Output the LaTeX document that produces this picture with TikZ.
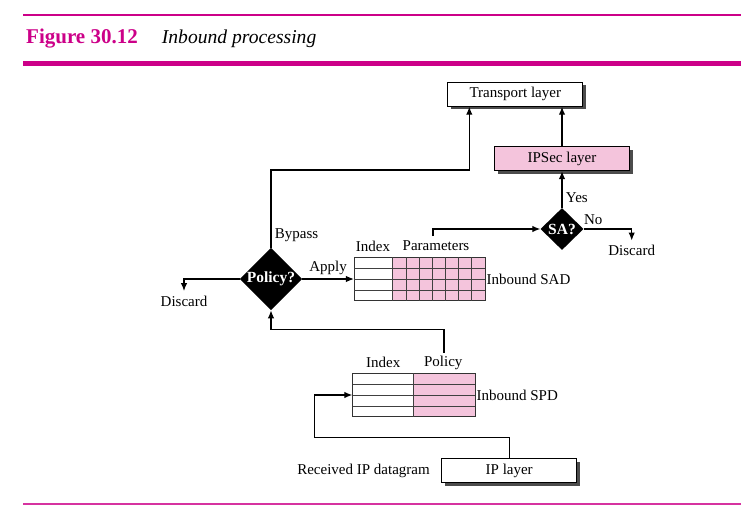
\documentclass[tikz,border=0pt]{standalone}
\usepackage{fontspec}
\setmainfont{Liberation Serif}
\usetikzlibrary{arrows.meta,shapes.geometric,shadows,positioning}
\definecolor{figmagenta}{RGB}{204,0,136}
\definecolor{cellpink}{RGB}{244,196,220}
\tikzset{
  layer/.style={draw, line width=0.9pt, minimum width=135pt, minimum height=24pt, inner sep=0pt,
    drop shadow={shadow xshift=3pt, shadow yshift=-3pt, fill=black!70, opacity=1}},
  decision/.style={diamond, fill=black, text=white, font=\fontsize{15.5}{18}\selectfont\bfseries, inner sep=0pt},
  flow/.style={-{Latex[length=8pt,width=6.5pt]}, line width=1.2pt},
  tablebox/.style={draw=black!80, line width=0.8pt, inner sep=0pt},
  gridline/.style={draw=black!75, line width=0.7pt},
  discard/.style={inner sep=4.5pt},
}
\begin{document}
\begin{tikzpicture}[x=1pt, y=-1pt, font=\fontsize{15}{18}\selectfont]
            \useasboundingbox (0,0) rectangle (741,516);
            \draw[figmagenta, line width=1.2pt] (23.3,15) -- (741,15);
            \draw[figmagenta, line width=4.8pt] (23.3,63.5) -- (741,63.5);
            \draw[figmagenta!80, line width=1.4pt] (23.3,504) -- (741,504);
            \node[anchor=base west, inner sep=0pt, text=figmagenta, font=\fontsize{21}{24}\selectfont\bfseries] (fignum) at (26,43.3) {Figure 30.12};
            \node[anchor=base west, inner sep=0pt, font=\fontsize{19.6}{23}\selectfont\itshape] (figtitle) at (161.7,43.3) {Inbound processing};

            \node[layer, fill=white](transport) at (515.3,94.3) {Transport layer};
            \node[layer, fill=cellpink](ipsec) at (562,158.7) {IPSec layer};
            \node[layer, fill=white](ip) at (509.2,470.5) {IP layer};
            \node[left=8pt of ip](received) {Received IP datagram};

            \node[decision, minimum width=59pt, minimum height=59pt](policy) at (271,279) {Policy?};
            \node[decision, minimum width=43pt, minimum height=42pt](sa) at (562,229) {SA?};

            % Inbound SAD
            \fill[cellpink] (392.7,257.3) rectangle (485,300.7);
            \node[tablebox, minimum width=130.7pt, minimum height=43.4pt](sad) at (419.65,279) {};
            \foreach \k in {1,2,3}
                \draw[gridline] (354.3,257.3+10.85*\k) -- (485,257.3+10.85*\k);
            \foreach \j in {0,...,6}
                \draw[gridline] (392.7+13.19*\j,257.3) -- (392.7+13.19*\j,300.7);
            \node(sadindex) at (373,246) {Index};
            \node(sadparams) at (436,246) {Parameters};
            \node[anchor=west, inner sep=1pt](sadname) at (sad.east) {Inbound SAD};

            % Inbound SPD
            \fill[cellpink] (413.3,373.3) rectangle (475,416.7);
            \node[tablebox, minimum width=122.3pt, minimum height=43.4pt](spd) at (413.85,395) {};
            \foreach \k in {1,2,3}
                \draw[gridline] (352.7,373.3+10.85*\k) -- (475,373.3+10.85*\k);
            \draw[gridline] (413.3,373.3) -- (413.3,416.7);
            \node(spdindex) at (383.3,362.7) {Index};
            \node(spdpolicy) at (443.3,362.7) {Policy};
            \node[anchor=west, inner sep=1pt](spdname) at (spd.east) {Inbound SPD};

            \node[discard](discardL) at (184,301) {Discard};
            \node[discard](discardR) at (631.7,250.5) {Discard};

            \coordinate (inbend) at (314.3,437.7);
            \coordinate (spdout) at (444,352.7);
            \coordinate (policybend) at (271,329.3);
            \coordinate (bypassbend) at (469.3,170);
            \coordinate (sadout) at (433,236);

            \draw[flow] (ip.north) |- (inbend) |- (spd.west);
            \draw[flow] (spdout) |- (policybend) -- (policy.south);
            \draw[flow] (policy.west) -| (discardL.north);
            \draw[flow] (policy.east) -- node[above] {Apply} (sad.west);
            \draw[flow] (policy.north) |- node[right, pos=0.08] {Bypass} (bypassbend) -- (bypassbend |- transport.south);
            \draw[flow] (sadout) |- (sa.west);
            \draw[flow] (sa.north) -- node[right, pos=0.27] {Yes} (ipsec.south);
            \draw[flow] (sa.east) -| node[above, pos=0.1] {No} (discardR.north);
            \draw[flow] (ipsec.north) -- (transport.south -| ipsec.north);
\end{tikzpicture}
\end{document}
